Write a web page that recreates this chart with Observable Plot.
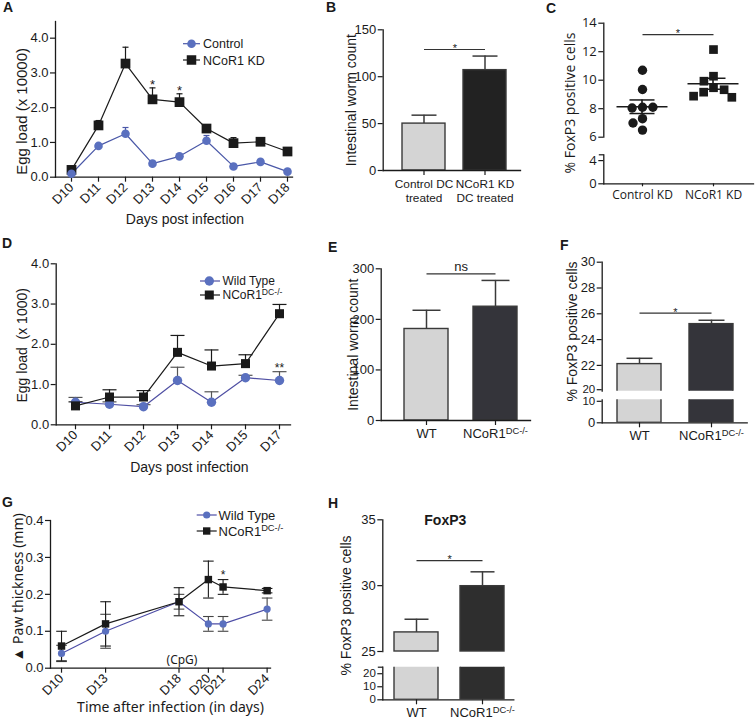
<!DOCTYPE html>
<html><head><meta charset="utf-8">
<script src="https://cdn.jsdelivr.net/npm/d3@7"></script>
<script src="https://cdn.jsdelivr.net/npm/@observablehq/plot@0.6"></script>
<style>
body{margin:0;background:#fff;}
#fig{position:relative;width:756px;height:720px;overflow:hidden;background:#fff;}
</style></head><body><div id="fig"></div>
<script>
// ---------------- DATA ----------------
// Panel A
const daysA = ["D10","D11","D12","D13","D14","D15","D16","D17","D18"];
const controlA = [0.10,0.90,1.25,0.39,0.60,1.05,0.31,0.44,0.16];
const controlAErr = [0.03,0.06,0.18,0.05,0.06,0.15,0.05,0.05,0.03];
const kdA = [0.21,1.49,3.27,2.24,2.16,1.40,0.98,1.02,0.74];
const kdAErr = [0.05,0.14,0.47,0.33,0.24,0.06,0.16,0.06,0.04];
const sigDaysA = ["D13","D14"];
const ticksA = [0,1,2,3,4];
// Panel B
const groupsB = ["Control DC\ntreated","NCoR1 KD\nDC treated"];
const wormsB = [50,107];
const wormsBErr = [9,15];
const sigLevelB = 129;
const ticksB = [0,50,100,150];
// Panel C
const groupsC = ["Control KD","NCoR1 KD"];
const controlC = [10.7,9.35,8.1,8.05,8.1,7.3,7.0,6.5];
const kdC = [12.15,10.28,9.93,9.47,9.16,9.33,8.8,8.88];
const sigLevelC = 13.2;
const ticksCUpper = [6,8,10,12,14];
const ticksCLower = [0,4];
// Panel D
const daysD = ["D10","D11","D12","D13","D14","D15","D17"];
const wtD = [0.56,0.51,0.45,1.10,0.56,1.17,1.10];
const wtDErr = [0.12,0.06,0.05,0.33,0.26,0.06,0.22];
const koD = [0.47,0.69,0.69,1.80,1.46,1.52,2.76];
const koDErr = [0.10,0.18,0.16,0.42,0.40,0.22,0.23];
const sigDaysD = ["D17"];
const ticksD = [0,1,2,3,4];
// Panel E
const groupsE = ["WT","NCoR1DC-/-"];
const wormsE = [181,225];
const wormsEErr = [37,52];
const sigLevelE = 290;
const ticksE = [0,100,200,300];
// Panel F
const foxpF = [22.1,25.2];
const foxpFErr = [0.45,0.30];
const sigLevelF = 26.05;
const ticksFUpper = [20,22,24,26,28,30];
const ticksFLower = [0,10];
// Panel G
const daysG = [10,13,18,20,21,24];
const wtG = [0.04,0.10,0.18,0.12,0.12,0.16];
const wtGErr = [0.022,0.046,0.02,0.02,0.02,0.03];
const koG = [0.06,0.12,0.18,0.24,0.22,0.21];
const koGErr = [0.04,0.06,0.038,0.05,0.02,0.006];
const sigDaysG = [21];
const cpgDay = 18;
const ticksG = [0,0.1,0.2,0.3,0.4];
// Panel H
const foxpH = [26.45,29.96];
const foxpHErr = [1.0,1.09];
const sigLevelH = 31.9;
const breakH = 25;
const ticksHUpper = [25,30,35];
const ticksHLower = [0,10,20];

// ---------------- STYLE / HELPERS ----------------
const FONT = '"Liberation Sans", Arial, Helvetica, sans-serif';
const FONT2 = '"Open Sans", "Noto Sans", sans-serif';
const FONT3 = '"Noto Sans", "Open Sans", sans-serif';
const INK = "#1a1a1a";
const BLUE = "#5a70bf";
const BLUE_LINE = "#4a58a8";
const LIGHT = "#d4d4d4";
const FIG = document.getElementById("fig");
const CAP = {draw(ctx, size){ const h = Math.sqrt(size/Math.PI); ctx.moveTo(-h,0); ctx.lineTo(h,0); }};
const LTICK = {draw(ctx, size){ const h = Math.sqrt(size/Math.PI); ctx.moveTo(-h,0); ctx.lineTo(0,0); }};
const lo = v => d3.mean(v) - d3.deviation(v)/Math.sqrt(v.length);
const hi = v => d3.mean(v) + d3.deviation(v)/Math.sqrt(v.length);

function supify(root){
  root.querySelectorAll("text").forEach(t => {
    if (t.childElementCount === 0 && t.textContent === "NCoR1DC-/-") {
      t.textContent = "";
      const ns = "http://www.w3.org/2000/svg";
      const a = document.createElementNS(ns,"tspan"); a.textContent = "NCoR1";
      const b = document.createElementNS(ns,"tspan"); b.textContent = "DC-/-";
      b.setAttribute("dy","-0.42em"); b.setAttribute("font-size","0.72em");
      t.append(a,b);
    }
  });
}
function plotAt(box, fr, opts, font = FONT){
  const svg = Plot.plot(Object.assign({}, opts, {
    width: box.w, height: box.h,
    marginLeft: fr.x0 - box.x, marginRight: box.x + box.w - fr.x1,
    marginTop: fr.y0 - box.y, marginBottom: box.y + box.h - fr.y1,
    style: {background:"transparent", fontFamily: font, fontSize:"13px", color: INK, overflow:"visible"}
  }));
  Object.assign(svg.style, {position:"absolute", left: box.x + "px", top: box.y + "px"});
  supify(svg);
  FIG.appendChild(svg);
  return svg;
}
const yAxis = (o={}) => Plot.axisY({tickSize:5, tickPadding:2, label:null, stroke:INK, strokeWidth:1.2, fill:INK, ...o});
const xAxis = (o={}) => Plot.axisX({tickSize:5, tickPadding:3, label:null, stroke:INK, strokeWidth:1.2, fill:INK, ...o});
const edge = side => Plot.frame({anchor: side, stroke: INK, strokeWidth: 1.3});
const breakTick = v => Plot.dot([v], {y: d => d, frameAnchor:"left", symbol: LTICK, r:5, stroke: INK, strokeWidth:1.2, fill:"none"});
const yTitle = (s, dx, dy, o={}) => Plot.text([s], {frameAnchor:"left", textAnchor:"middle", lineAnchor:"middle", rotate:-90, dx, dy, fontSize:14, fill:INK, ...o});
const xTitle = (s, dx, dy, o={}) => Plot.text([s], {frameAnchor:"bottom", textAnchor:"middle", lineAnchor:"middle", dx, dy, fontSize:14, fill:INK, ...o});
function band(box, a, b, pi, po, domain){ return {type:"band", domain, range:[a-box.x, b-box.x], paddingInner:pi, paddingOuter:po}; }
function stepOf(s){ return (s.range[1]-s.range[0])/(s.domain.length - s.paddingInner + 2*s.paddingOuter); }
const sigStar = (a, y, dx, txt="*", dy=-1, fs=11) => Plot.text([{a, y}], {x:"a", y:"y", text:()=>txt, dx, dy, fontSize:fs, fill:INK, fontFamily:FONT});
const sigLine = (a, b, y) => Plot.link([{a, b, y}], {x1:"a", x2:"b", y1:"y", y2:"y", stroke:"#333", strokeWidth:1.2});

function barMarks(table, colors, capR){
  return [
    Plot.barY(table, {x:"g", y:"v", fill: d => colors[table.indexOf(d)], stroke: "#3a3a3a", strokeWidth:1.4}),
    Plot.ruleX(table, {x:"g", y1:"v", y2: d => d.v + d.e, stroke:"#3a3a3a", strokeWidth:1.5}),
    Plot.dot(table, {x:"g", y: d => d.v + d.e, symbol: CAP, r: capR, stroke:"#3a3a3a", strokeWidth:1.5, fill:"none"})
  ];
}

// ---------------- PANEL A ----------------
{
  const box = {x:0, y:0, w:330, h:228};
  const fr = {x0:55, x1:292, y0:21, y1:176.7};
  const t = daysA.map((d,i)=>({day:d, c:controlA[i], ce:controlAErr[i], k:kdA[i], ke:kdAErr[i]}));
  const sig = sigDaysA.map(d => { const i = daysA.indexOf(d); return {day:d, y: kdA[i] + kdAErr[i]}; });
  plotAt(box, fr, {
    x: {type:"point", domain: daysA, range:[70.7, 287.3], padding:0},
    y: {domain:[0, 4.48]},
    marks: [
      edge("left"), edge("bottom"),
      yAxis({ticks: ticksA, tickFormat: d3.format(".1f")}),
      xAxis({tickRotate:-45}),
      yTitle("Egg load (x 10000)", -33, 12, {fontSize:15}),
      xTitle("Days post infection", 11, 42),
      Plot.ruleX(t, {x:"day", y1:"c", y2:d=>d.c+d.ce, stroke:BLUE_LINE, strokeWidth:1.2}),
      Plot.dot(t, {x:"day", y:d=>d.c+d.ce, symbol:CAP, r:3, stroke:BLUE_LINE, strokeWidth:1.2, fill:"none"}),
      Plot.ruleX(t, {x:"day", y1:"k", y2:d=>d.k+d.ke, stroke:INK, strokeWidth:1.2}),
      Plot.dot(t, {x:"day", y:d=>d.k+d.ke, symbol:CAP, r:3, stroke:INK, strokeWidth:1.2, fill:"none"}),
      Plot.line(t, {x:"day", y:"c", stroke:BLUE_LINE, strokeWidth:1.2}),
      Plot.line(t, {x:"day", y:"k", stroke:INK, strokeWidth:1.2}),
      Plot.dot(t, {x:"day", y:"k", symbol:"square", r:5.5, fill:INK}),
      Plot.dot(t, {x:"day", y:"c", r:4.3, fill:BLUE}),
      Plot.text(sig, {x:"day", y:"y", text:()=>"*", dy:-3, fontSize:13, fill:INK})
    ]
  });
}

// ---------------- PANEL B ----------------
{
  const box = {x:330, y:0, w:210, h:228};
  const fr = {x0:382.7, x1:520, y0:29.3, y1:170};
  const xs = band(box, 382.4, 524.6, 0.3, 0.3, groupsB);
  const t = groupsB.map((g,i)=>({g, v:wormsB[i], e:wormsBErr[i]}));
  plotAt(box, fr, {
    x: xs, y: {domain:[0,150]},
    marks: [
      ...barMarks(t, [LIGHT, "#222222"], 12.5),
      edge("left"), edge("bottom"),
      yAxis({ticks: ticksB}),
      xAxis({lineHeight:1.15, fontSize:11.8}),
      yTitle("Intestinal worm count", -31.7, 0),
      sigLine(groupsB[0], groupsB[1], sigLevelB),
      sigStar(groupsB[0], sigLevelB, stepOf(xs)/2)
    ]
  });
}

// ---------------- PANEL C ----------------
{
  const box = {x:540, y:0, w:216, h:228};
  const frU = {x0:603.3, x1:753, y0:22.7, y1:136.7};
  const frL = {x0:603.3, x1:753, y0:154.3, y1:183.3};
  const xs = {type:"point", domain: groupsC, range:[641.7-540, 712.7-540], padding:0};
  // upper axis layer
  plotAt(box, frU, {
    x: {...xs, axis:null}, y: {domain:[6,14]},
    marks: [
      edge("left"),
      yAxis({ticks: ticksCUpper, tickFormat: d3.format("d")}),
      yTitle("% FoxP3 positive cells", -33.3, 22.8),
      sigLine(groupsC[0], groupsC[1], sigLevelC),
      sigStar(groupsC[0], sigLevelC, 35.5)
    ]
  }, FONT2);
  // dots layer
  const t = [...controlC.map(v=>({g:groupsC[0], v})), ...kdC.map(v=>({g:groupsC[1], v}))];
  plotAt(box, frU, {
    fx: {domain: groupsC, range:[611.7-540, 742.7-540], paddingInner:0.155, paddingOuter:0, axis:null, label:null},
    y: {domain:[6,14], axis:null},
    marks: [
      Plot.dot(t.filter(d=>d.g===groupsC[0]), Plot.dodgeX("middle", {fx:"g", y:"v", r:4.7, fill:INK, padding:0.5})),
      Plot.dot(t.filter(d=>d.g===groupsC[1]), Plot.dodgeX("middle", {fx:"g", y:"v", r:4.9, symbol:"square", fill:INK, padding:0.5})),
      Plot.tickY(t, Plot.groupZ({y:"mean"}, {fx:"g", y:"v", insetLeft:4.5, insetRight:4.5, stroke:INK, strokeWidth:1.6})),
      Plot.rect(t, Plot.groupZ({y1:lo, y2:hi}, {fx:"g", y1:"v", y2:"v", insetLeft:29.2, insetRight:29.2, fill:INK})),
      Plot.tickY(t, Plot.groupZ({y:hi}, {fx:"g", y:"v", insetLeft:17.5, insetRight:17.5, stroke:INK, strokeWidth:1.5})),
      Plot.tickY(t, Plot.groupZ({y:lo}, {fx:"g", y:"v", insetLeft:17.5, insetRight:17.5, stroke:INK, strokeWidth:1.5}))
    ]
  }, FONT2);
  // lower axis layer
  plotAt(box, frL, {
    x: xs, y: {domain:[0,5]},
    marks: [
      edge("left"), edge("bottom"),
      yAxis({ticks: ticksCLower, tickFormat: d3.format("d")}),
      breakTick(5),
      xAxis({tickSize:3, tickPadding:4, fontSize:12})
    ]
  }, FONT2);
}

// ---------------- PANEL D ----------------
{
  const box = {x:0, y:228, w:330, h:245};
  const fr = {x0:55.7, x1:290, y0:263.3, y1:424.3};
  const t = daysD.map((d,i)=>({day:d, w:wtD[i], we:wtDErr[i], k:koD[i], ke:koDErr[i]}));
  const sig = sigDaysD.map(d => { const i = daysD.indexOf(d); return {day:d, y: wtD[i] + wtDErr[i]}; });
  plotAt(box, fr, {
    x: {type:"point", domain: daysD, range:[72.7, 281.7], padding:0},
    y: {domain:[0, 4]},
    marks: [
      edge("left"), edge("bottom"),
      yAxis({ticks: ticksD, tickFormat: d3.format(".1f")}),
      xAxis({tickRotate:-45}),
      yTitle("Egg load  (x 1000)", -33.7, 1),
      xTitle("Days post infection", 16, 42.4),
      Plot.ruleX(t, {x:"day", y1:"w", y2:d=>d.w+d.we, stroke:"#555", strokeWidth:1.2}),
      Plot.dot(t, {x:"day", y:d=>d.w+d.we, symbol:CAP, r:7, stroke:"#555", strokeWidth:1.2, fill:"none"}),
      Plot.ruleX(t, {x:"day", y1:"k", y2:d=>d.k+d.ke, stroke:INK, strokeWidth:1.2}),
      Plot.dot(t, {x:"day", y:d=>d.k+d.ke, symbol:CAP, r:7, stroke:INK, strokeWidth:1.2, fill:"none"}),
      Plot.line(t, {x:"day", y:"w", stroke:"#4f4fa3", strokeWidth:1.2}),
      Plot.dot(t, {x:"day", y:"w", r:4.7, fill:BLUE}),
      Plot.line(t, {x:"day", y:"k", stroke:INK, strokeWidth:1.2}),
      Plot.dot(t, {x:"day", y:"k", symbol:"square", r:5.1, fill:INK}),
      Plot.text(sig, {x:"day", y:"y", text:()=>"**", dy:-4, fontSize:12, fill:INK})
    ]
  });
}

// ---------------- PANEL E ----------------
{
  const box = {x:330, y:228, w:210, h:245};
  const fr = {x0:380.7, x1:530, y0:268.3, y1:420};
  const xs = band(box, 380.7, 540, 0.36, 0.33, groupsE);
  const t = groupsE.map((g,i)=>({g, v:wormsE[i], e:wormsEErr[i]}));
  plotAt(box, fr, {
    x: xs, y: {domain:[0,300]},
    marks: [
      ...barMarks(t, [LIGHT, "#34343a"], 14),
      edge("left"), edge("bottom"),
      yAxis({ticks: ticksE}),
      xAxis({}),
      yTitle("Intestinal worm count", -27.7, 0),
      sigLine(groupsE[0], groupsE[1], sigLevelE),
      sigStar(groupsE[0], sigLevelE, stepOf(xs)/2, "ns", -7, 13)
    ]
  });
}

// ---------------- PANEL F ----------------
{
  const box = {x:540, y:228, w:216, h:245};
  const frU = {x0:601.7, x1:746.7, y0:261.7, y1:390.7};
  const frL = {x0:601.7, x1:746.7, y0:399.3, y1:422.3};
  const xs = band(box, 601.5, 749.1, 0.39, 0.22, groupsE);
  const t = groupsE.map((g,i)=>({g, v:foxpF[i], e:foxpFErr[i]}));
  const fills = [LIGHT, "#34343a"];
  const uMin = ticksFUpper[0], lMax = ticksFLower[ticksFLower.length-1];
  plotAt(box, frU, {
    x: {...xs, axis:null}, y: {domain:[20,30]},
    marks: [
      Plot.barY(t, {x:"g", y:"v", fill:(d,i)=>fills[i], stroke:"#3a3a3a", strokeWidth:1.4, clip:true}),
      Plot.ruleX(t, {x:"g", y1:"v", y2:d=>d.v+d.e, stroke:"#3a3a3a", strokeWidth:1.5}),
      Plot.dot(t, {x:"g", y:d=>d.v+d.e, symbol:CAP, r:13, stroke:"#3a3a3a", strokeWidth:1.5, fill:"none"}),
      edge("left"),
      yAxis({ticks: ticksFUpper.filter(v => v !== uMin)}),
      yAxis({ticks: [uMin], fontSize:11.5, dy:-1.5}),
      yTitle("% FoxP3 positive cells", -29.7, 4.8),
      sigLine(groupsE[0], groupsE[1], sigLevelF),
      sigStar(groupsE[0], sigLevelF, stepOf(xs)/2)
    ]
  });
  plotAt(box, frL, {
    x: xs, y: {domain:[0,10]},
    marks: [
      Plot.barY(t, {x:"g", y:"v", fill:(d,i)=>fills[i], stroke:"#3a3a3a", strokeWidth:1.4, clip:true}),
      edge("left"), edge("bottom"),
      yAxis({ticks: ticksFLower.filter(v => v !== lMax)}),
      yAxis({ticks: [lMax], fontSize:11.5, dy:1.5}),
      xAxis({})
    ]
  });
}

// ---------------- PANEL G ----------------
{
  const box = {x:0, y:473, w:330, h:247};
  const fr = {x0:50, x1:270, y0:520, y1:667.7};
  const t = daysG.map((d,i)=>({day:d, w:wtG[i], we:wtGErr[i], k:koG[i], ke:koGErr[i]}));
  const sig = sigDaysG.map(d => { const i = daysG.indexOf(d); return {day:d, y: koG[i] + koGErr[i]}; });
  plotAt(box, fr, {
    x: {type:"linear", domain:[9.25, 24.23]},
    y: {domain:[0, 0.4]},
    marks: [
      edge("left"), edge("bottom"),
      yAxis({ticks: ticksG, tickFormat: d3.format(".1f")}),
      xAxis({ticks: daysG, tickFormat: d => "D" + d, tickRotate:-45}),
      yTitle("\u25B2 Paw thickness (mm)", -32, -7, {fontFamily:FONT3}),
      xTitle("Time after infection (in days)", 10, 39, {fontFamily:FONT3}),
      Plot.text([cpgDay], {x:d=>d, frameAnchor:"bottom", lineAnchor:"middle", text:()=>"(CpG)", dx:3, dy:-8, fontSize:12, fill:INK, fontFamily:FONT3}),
      Plot.ruleX(t, {x:"day", y1:d=>d.w-d.we, y2:d=>d.w+d.we, stroke:"#444", strokeWidth:1.1}),
      Plot.dot(t, {x:"day", y:d=>d.w+d.we, symbol:CAP, r:5.3, stroke:"#444", strokeWidth:1.1, fill:"none"}),
      Plot.dot(t, {x:"day", y:d=>d.w-d.we, symbol:CAP, r:5.3, stroke:"#444", strokeWidth:1.1, fill:"none"}),
      Plot.ruleX(t, {x:"day", y1:d=>d.k-d.ke, y2:d=>d.k+d.ke, stroke:INK, strokeWidth:1.1}),
      Plot.dot(t, {x:"day", y:d=>d.k+d.ke, symbol:CAP, r:5.3, stroke:INK, strokeWidth:1.1, fill:"none"}),
      Plot.dot(t, {x:"day", y:d=>d.k-d.ke, symbol:CAP, r:5.3, stroke:INK, strokeWidth:1.1, fill:"none"}),
      Plot.line(t, {x:"day", y:"w", stroke:"#4d4da6", strokeWidth:1.2}),
      Plot.line(t, {x:"day", y:"k", stroke:INK, strokeWidth:1.2}),
      Plot.dot(t, {x:"day", y:"w", r:3.6, fill:BLUE}),
      Plot.dot(t, {x:"day", y:"k", symbol:"square", r:4.2, fill:INK}),
      Plot.text(sig, {x:"day", y:"y", text:()=>"*", dy:-4, fontSize:12, fill:INK})
    ]
  });
}

// ---------------- PANEL H ----------------
{
  const box = {x:330, y:473, w:210, h:247};
  const frU = {x0:382.3, x1:513.3, y0:519.3, y1:651};
  const frL = {x0:382.3, x1:513.3, y0:666.7, y1:699.3};
  const xs = band(box, 382.3, 514.5, 0.34, 0.17, groupsE);
  const t = groupsE.map((g,i)=>({g, v:foxpH[i], e:foxpHErr[i]}));
  const fills = [LIGHT, "#2e2e2e"];
  plotAt(box, frU, {
    x: {...xs, axis:null}, y: {domain:[breakH,35]},
    marks: [
      Plot.barY(t, {x:"g", y1:()=>breakH, y2:"v", fill:(d,i)=>fills[i], stroke:"#3a3a3a", strokeWidth:1.4}),
      Plot.ruleX(t, {x:"g", y1:"v", y2:d=>d.v+d.e, stroke:"#3a3a3a", strokeWidth:1.5}),
      Plot.dot(t, {x:"g", y:d=>d.v+d.e, symbol:CAP, r:12, stroke:"#3a3a3a", strokeWidth:1.5, fill:"none"}),
      edge("left"),
      yAxis({ticks: ticksHUpper}),
      Plot.text(["FoxP3"], {frameAnchor:"top", lineAnchor:"middle", dx:-3, dy:1, fontSize:14, fontWeight:"bold", fill:INK}),
      yTitle("% FoxP3 positive cells", -36.3, 19.8),
      sigLine(groupsE[0], groupsE[1], sigLevelH),
      sigStar(groupsE[0], sigLevelH, stepOf(xs)/2)
    ]
  });
  plotAt(box, frL, {
    x: xs, y: {domain:[0,breakH]},
    marks: [
      Plot.barY(t, {x:"g", y:"v", fill:(d,i)=>fills[i], stroke:"#3a3a3a", strokeWidth:1.4, clip:true}),
      edge("left"), edge("bottom"),
      yAxis({ticks: ticksHLower, fontSize:11.5}),
      breakTick(breakH),
      xAxis({})
    ]
  });
}

// ---------------- PANEL LETTERS & LEGENDS ----------------
{
  const ov = d3.create("svg").attr("width",756).attr("height",720)
    .style("position","absolute").style("left","0px").style("top","0px").style("overflow","visible")
    .attr("font-family", FONT).attr("fill", INK);
  const letters = [["A",3,12],["B",326,12],["C",546,13],["D",2,248],["E",328,252],["F",560,250],["G",2,507],["H",328,508]];
  ov.selectAll("text.lt").data(letters).join("text").attr("class","lt")
    .attr("x", d=>d[1]).attr("y", d=>d[2]).attr("font-size",14).attr("font-weight","bold").text(d=>d[0]);

  function legend(cfg){
    cfg.rows.forEach((r,i)=>{
      const y = cfg.ys[i];
      ov.append("line").attr("x1",cfg.x0).attr("x2",cfg.x1).attr("y1",y).attr("y2",y).attr("stroke",r.line).attr("stroke-width",1.2);
      if (r.kind==="circle") ov.append("circle").attr("cx",cfg.mx).attr("cy",y).attr("r",cfg.r).attr("fill",r.fill);
      else ov.append("rect").attr("x",cfg.mx-cfg.s/2).attr("y",y-cfg.s/2).attr("width",cfg.s).attr("height",cfg.s).attr("fill",r.fill);
      const tx = ov.append("text").attr("x",cfg.tx).attr("y",y).attr("dy","0.36em").attr("font-size",cfg.fs).attr("font-family",cfg.font||FONT);
      tx.append("tspan").text(r.label);
      if (r.sup) tx.append("tspan").attr("dy","-0.45em").attr("font-size",cfg.fs*0.72).text(r.sup);
    });
  }
  legend({x0:183, x1:200, mx:191.5, tx:203, ys:[43.7,60], r:4.3, s:9.5, fs:12.5,
    rows:[{label:"Control", kind:"circle", fill:BLUE, line:BLUE_LINE},{label:"NCoR1 KD", kind:"square", fill:INK, line:INK}]});
  legend({x0:200, x1:220, mx:209.3, tx:222.5, ys:[281,295], r:4.7, s:9, fs:12,
    rows:[{label:"Wild Type", kind:"circle", fill:BLUE, line:"#4f4fa3"},{label:"NCoR1", sup:"DC-/-", kind:"square", fill:INK, line:INK}]});
  legend({x0:196.7, x1:216.7, mx:206.7, tx:218.5, ys:[515,531], r:3.6, s:7.4, fs:13,
    rows:[{label:"Wild Type", kind:"circle", fill:BLUE, line:"#4d4da6"},{label:"NCoR1", sup:"DC-/-", kind:"square", fill:INK, line:INK}]});
  FIG.appendChild(ov.node());
}
</script></body></html>
